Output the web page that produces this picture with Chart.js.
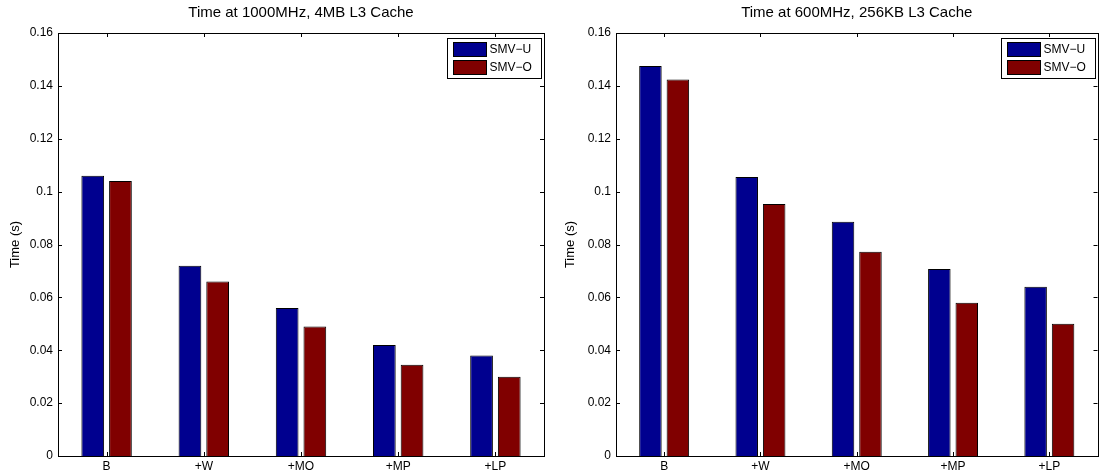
<!DOCTYPE html>
<html>
<head>
<meta charset="utf-8">
<script src="https://cdn.jsdelivr.net/npm/chart.js@4.4.1/dist/chart.umd.min.js"></script>
<style>
  html, body { margin: 0; padding: 0; background: #fff; }
  #wrap { position: relative; width: 1099px; height: 475px; }
  .panel { position: absolute; top: 0; height: 475px; }
</style>
</head>
<body>
<div id="wrap">
  <div class="panel" style="left:0;width:550px"><canvas id="chart-1000"></canvas></div>
  <div class="panel" style="left:555px;width:544px"><canvas id="chart-600"></canvas></div>
</div>
<script>
const categories = ['B', '+W', '+MO', '+MP', '+LP'];

// 1000MHz, 4MB L3
const smvU1000 = [0.106, 0.072, 0.056, 0.042, 0.038];
const smvO1000 = [0.104, 0.066, 0.049, 0.0345, 0.030];

// 600MHz, 256KB L3
const smvU600 = [0.1475, 0.1055, 0.0886, 0.0707, 0.064];
const smvO600 = [0.1424, 0.0953, 0.0773, 0.058, 0.050];

const yTicks = [0, 0.02, 0.04, 0.06, 0.08, 0.1, 0.12, 0.14, 0.16];
const yTickLabels = ['0', '0.02', '0.04', '0.06', '0.08', '0.1', '0.12', '0.14', '0.16'];

const seriesNames = ['SMV\u2212U', 'SMV\u2212O'];
const seriesColors = ['#00008F', '#800000'];

const FONT = "'Liberation Sans', Arial, Helvetica, sans-serif";
Chart.defaults.font.family = FONT;
Chart.defaults.color = '#000';

// box around the plot, inward ticks on all four sides, legend box in the corner,
// and the title centred over the plot area rather than the canvas
const matlabFrame = {
    id: 'matlabFrame',
    afterDatasetsDraw(chart, args, opts) {
        const ctx = chart.ctx;
        const a = chart.chartArea;
        const xs = chart.scales.x;
        const ys = chart.scales.y;
        const len = 4;

        ctx.save();
        ctx.strokeStyle = '#000';
        ctx.lineWidth = 1;
        ctx.beginPath();
        xs.ticks.forEach((t, i) => {
            const px = Math.round(xs.getPixelForTick(i)) + 0.5;
            ctx.moveTo(px, a.bottom);
            ctx.lineTo(px, a.bottom - len);
            ctx.moveTo(px, a.top);
            ctx.lineTo(px, a.top + len);
        });
        yTicks.forEach(v => {
            const py = Math.round(ys.getPixelForValue(v)) + 0.5;
            ctx.moveTo(a.left, py);
            ctx.lineTo(a.left + len, py);
            ctx.moveTo(a.right, py);
            ctx.lineTo(a.right - len, py);
        });
        ctx.stroke();

        ctx.strokeRect(Math.round(a.left) + 0.5, Math.round(a.top) + 0.5,
            Math.round(a.right - a.left), Math.round(a.bottom - a.top));

        // title
        ctx.fillStyle = '#000';
        ctx.font = '15px ' + FONT;
        ctx.textAlign = 'center';
        ctx.textBaseline = 'middle';
        ctx.fillText(opts.title, (a.left + a.right) / 2, 13);

        // legend
        const boxW = 94, boxH = 40;
        const bx = Math.round(a.right - 3 - boxW) + 0.5;
        const by = Math.round(a.top + 5) + 0.5;
        ctx.fillStyle = '#fff';
        ctx.fillRect(bx, by, boxW, boxH);
        ctx.strokeRect(bx, by, boxW, boxH);
        ctx.font = '12px ' + FONT;
        ctx.textAlign = 'left';
        chart.data.datasets.forEach((ds, i) => {
            const sx = bx + 6;
            const sy = by + 4 + i * 18;
            ctx.fillStyle = ds.backgroundColor;
            ctx.fillRect(sx, sy, 33, 14);
            ctx.strokeRect(sx, sy, 33, 14);
            ctx.fillStyle = '#000';
            ctx.fillText(ds.label, sx + 36, sy + 7.5);
        });
        ctx.restore();
    }
};

function makeChart(canvasId, title, uVals, oVals, yAxisWidth, rightPad) {
    return new Chart(document.getElementById(canvasId), {
        type: 'bar',
        data: {
            labels: categories,
            datasets: [uVals, oVals].map((vals, i) => ({
                label: seriesNames[i],
                data: vals,
                backgroundColor: seriesColors[i],
                borderColor: '#000',
                borderWidth: 1,
                categoryPercentage: 0.57,
                barPercentage: 0.82,
            }))
        },
        options: {
            responsive: true,
            maintainAspectRatio: false,
            animation: false,
            layout: { padding: { left: 0, right: rightPad, top: 33, bottom: 0 } },
            plugins: {
                legend: { display: false },
                tooltip: { enabled: false },
                title: { display: false },
                matlabFrame: { title: title },
            },
            scales: {
                x: {
                    grid: { display: false, drawTicks: false, tickLength: 0 },
                    border: { display: false },
                    ticks: { font: { size: 12 }, padding: 3, maxRotation: 0 },
                    afterFit(scale) { scale.height = 19; },
                },
                y: {
                    min: 0,
                    max: 0.16,
                    grid: { display: false, drawTicks: false, tickLength: 0 },
                    border: { display: false },
                    afterBuildTicks(scale) {
                        scale.ticks = yTicks.map(v => ({ value: v }));
                    },
                    ticks: {
                        font: { size: 12 },
                        padding: 5,
                        callback: (v, i) => yTickLabels[i],
                    },
                    title: {
                        display: true,
                        text: 'Time (s)',
                        font: { size: 13 },
                        padding: { top: 8, bottom: 0 },
                    },
                    afterFit(scale) { scale.width = yAxisWidth; },
                },
            },
        },
        plugins: [matlabFrame],
    });
}

makeChart('chart-1000', 'Time at 1000MHz, 4MB L3 Cache', smvU1000, smvO1000, 58, 6);
makeChart('chart-600', 'Time at 600MHz, 256KB L3 Cache', smvU600, smvO600, 61, 1.5);
</script>
</body>
</html>
